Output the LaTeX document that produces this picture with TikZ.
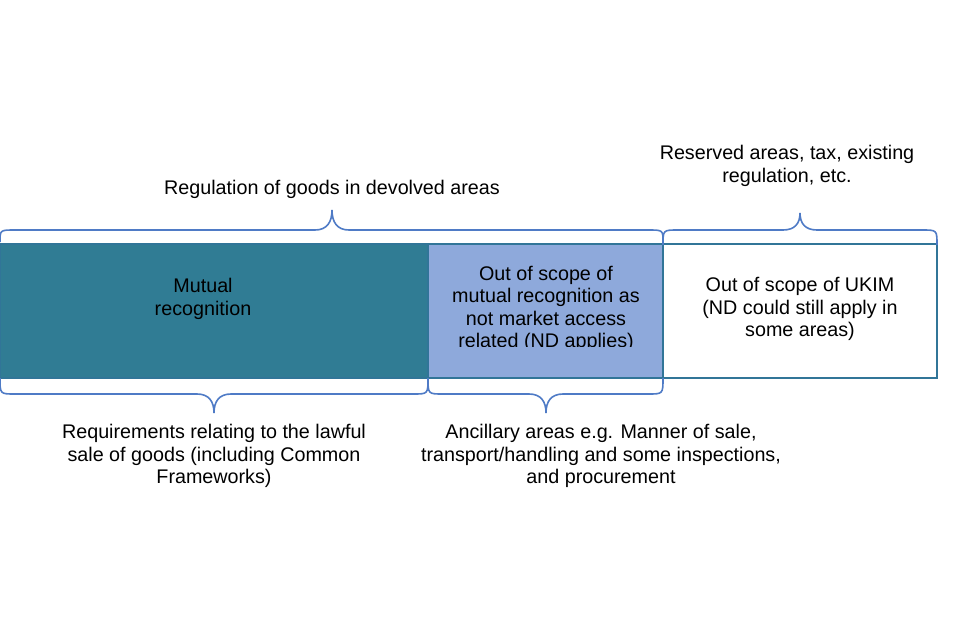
\documentclass[tikz,border=0pt]{standalone}
\usepackage{fontspec}
\setmainfont{Liberation Sans}
\definecolor{mrteal}{RGB}{48,124,148}
\definecolor{ndblue}{RGB}{142,169,219}
\definecolor{ukimline}{RGB}{49,117,152}
\definecolor{braceblue}{RGB}{79,123,198}
\tikzset{
  label text/.style={font=\fontsize{14.8}{16.9}\selectfont, align=center, inner sep=0pt},
  area/.style={draw=ukimline, line width=1.5pt, minimum height=100.5pt, inner sep=0pt, outer sep=0pt, anchor=north west},
  curlyline/.style={draw=braceblue, line width=1.2pt},
}
\begin{document}
\begin{tikzpicture}[x=0.75pt, y=-0.75pt]

    % comando \curly: x sinistra, x punta, x destra, y estremi, y braccia, y punta
    \def\curly#1#2#3#4#5#6{%
        \draw[curlyline] (#1,#4) .. controls (#1,#5) .. (#1+15,#5)
            -- (#2-17,#5) .. controls (#2-5,#5) and (#2,{#5+0.4*(#6-#5)}) .. (#2,#6)
            .. controls (#2,{#5+0.4*(#6-#5)}) and (#2+5,#5) .. (#2+17,#5)
            -- (#3-15,#5) .. controls (#3,#5) .. (#3,#4);%
    }

    \fill[white] (0,0) rectangle (960,640);
    \useasboundingbox (0,0) rectangle (960,640);

    % -- Le tre aree --
    \node[area, fill=mrteal, minimum width=321pt] (mutual) at (0,244) {};
    \node[area, fill=ndblue, minimum width=176.25pt] (ndarea) at (428,244) {};
    \node[area, fill=white, minimum width=205.5pt] (ukim) at (663,244) {};

    \node[label text] (mutualtxt) at (203,299) {Mutual\\recognition};
    \begin{scope}
        \clip (428,244) rectangle (663,346);
        \node[label text] (ndtxt) at (546,309) {Out of scope of\\mutual recognition as\\not market access\\related (ND applies)};
    \end{scope}
    \node[label text] (ukimtxt) at (800,309) {Out of scope of UKIM\\(ND could still apply in\\some areas)};

    % -- Graffe sopra --
    \curly{0}{332}{663}{242}{230}{210}
    \curly{663}{800}{937}{245}{230}{213}
    \node[label text] (devolved) at (332,189) {Regulation of goods in devolved areas};
    \node[label text] (reserved) at (787,166) {Reserved areas, tax, existing\\regulation, etc.};

    % -- Graffe sotto --
    \curly{0}{214}{428}{378}{394}{413}
    \curly{428}{546}{663}{378}{394}{413}
    \node[label text] (lawful) at (214,456) {Requirements relating to the lawful\\sale of goods (including Common\\Frameworks)};
    \node[label text] (ancillary) at (601,456) {Ancillary areas e.g. Manner of sale,\\transport/handling and some inspections,\\and procurement};
\end{tikzpicture}
\end{document}
